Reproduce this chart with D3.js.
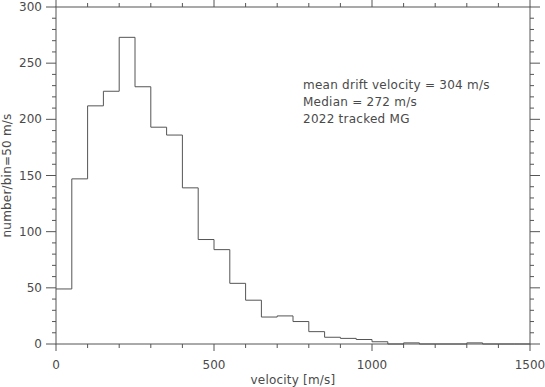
<!DOCTYPE html>
<html>
<head>
<meta charset="utf-8">
<script src="https://cdn.jsdelivr.net/npm/d3@7"></script>
<style>
  body { margin: 0; background: #fff; }
  svg { display: block; }
  text { font-family: "DejaVu Sans", sans-serif; fill: #4a4a4a; }
</style>
</head>
<body>
<div id="chart"></div>
<script>
// bin starts (m/s), bin width 50
const binStarts = d3.range(0, 1500, 50);
const counts = [49, 147, 212, 225, 273, 229, 193, 186, 139, 93,
                84, 54, 39, 24, 25, 20, 11, 6, 5, 4,
                2, 0, 1, 0, 0, 0, 1, 0, 0, 0];
const xTicks = [0, 500, 1000, 1500];
const yTicks = [0, 50, 100, 150, 200, 250, 300];
const notes = ['mean drift velocity = 304 m/s', 'Median = 272 m/s', '2022 tracked MG'];

const W = 545, H = 387;
const margin = { top: 7, right: 15, bottom: 43, left: 56 };
const width = W - margin.left - margin.right;
const height = H - margin.top - margin.bottom;
const ink = '#555';

const svg = d3.select('#chart')
  .append('svg')
  .attr('width', W)
  .attr('height', H)
  .append('g')
  .attr('transform', `translate(${margin.left}, ${margin.top})`);

const x = d3.scaleLinear().domain([0, 1500]).range([0, width]);
const y = d3.scaleLinear().domain([0, 300]).range([height, 0]);

// frame
svg.append('rect')
  .attr('width', width)
  .attr('height', height)
  .attr('fill', 'none')
  .attr('stroke', ink)
  .attr('stroke-width', 1);

const xMinor = d3.range(0, 1501, 100);
const yMinor = d3.range(0, 301, 10);

// x ticks (outward, bottom and top)
[[height, 1], [0, -1]].forEach(([y0, dir]) => {
  svg.append('g').selectAll('line')
    .data(xMinor)
    .join('line')
    .attr('x1', d => x(d)).attr('x2', d => x(d))
    .attr('y1', y0)
    .attr('y2', d => y0 + dir * (d % 500 === 0 ? 7 : 4))
    .attr('stroke', ink);
});

// y ticks (outward, left and right)
[[0, -1], [width, 1]].forEach(([x0, dir]) => {
  svg.append('g').selectAll('line')
    .data(yMinor)
    .join('line')
    .attr('y1', d => y(d)).attr('y2', d => y(d))
    .attr('x1', x0)
    .attr('x2', d => x0 + dir * (d % 50 === 0 ? 10 : 4))
    .attr('stroke', ink);
});

// tick labels
svg.append('g').selectAll('text')
  .data(xTicks)
  .join('text')
  .attr('x', d => x(d))
  .attr('y', height + 25)
  .attr('text-anchor', 'middle')
  .attr('font-size', 12)
  .text(d => d);

svg.append('g').selectAll('text')
  .data(yTicks)
  .join('text')
  .attr('x', -14)
  .attr('y', d => y(d) + 4)
  .attr('text-anchor', 'end')
  .attr('font-size', 12)
  .text(d => d);

// axis titles
svg.append('text')
  .attr('x', width / 2)
  .attr('y', height + 40)
  .attr('text-anchor', 'middle')
  .attr('font-size', 12)
  .attr('letter-spacing', 0.2)
  .text('velocity [m/s]');

svg.append('text')
  .attr('transform', `translate(${-45}, ${height / 2}) rotate(-90)`)
  .attr('text-anchor', 'middle')
  .attr('font-size', 12)
  .attr('letter-spacing', 0.2)
  .text('number/bin=50 m/s');

// histogram steps
const pts = binStarts.map((b, i) => [b, counts[i]]);
pts.push([1500, counts[counts.length - 1]]);

const line = d3.line()
  .x(d => x(d[0]))
  .y(d => y(d[1]))
  .curve(d3.curveStepAfter);

svg.append('path')
  .datum(pts)
  .attr('d', line)
  .attr('fill', 'none')
  .attr('stroke', ink)
  .attr('stroke-width', 1);

// annotation
svg.append('g').selectAll('text')
  .data(notes)
  .join('text')
  .attr('x', 247)
  .attr('y', (d, i) => 82 + i * 17)
  .attr('font-size', 12)
  .attr('letter-spacing', 0.25)
  .text(d => d);
</script>
</body>
</html>
